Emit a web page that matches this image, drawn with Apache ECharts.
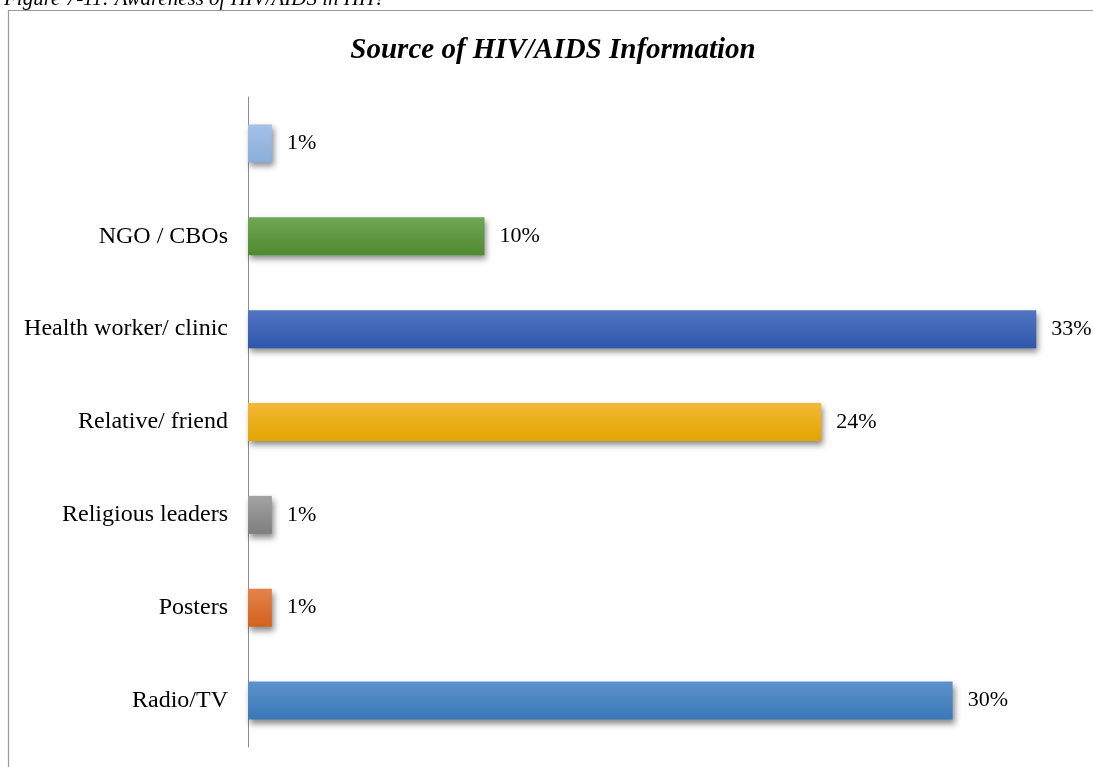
<!DOCTYPE html>
<html>
<head>
<meta charset="utf-8">
<style>
html,body{margin:0;padding:0;background:#fff;}
#c{width:1093px;height:767px;}
</style>
<script src="https://cdn.jsdelivr.net/npm/echarts@6/dist/echarts.min.js"></script>
</head>
<body>
<div id="c"></div>
<script>
const categories = ['Radio/TV', 'Posters', 'Religious leaders', 'Relative/ friend', 'Health worker/ clinic', 'NGO / CBOs', ''];
const values = [29.5, 1.0, 1.0, 24.0, 33.0, 9.9, 1.0];
const colorsTop = ['#5d93cc', '#e5834a', '#a3a3a3', '#f2b936', '#5275c4', '#72a554', '#a5c2e8'];
const colorsBottom = ['#3a77b7', '#d2611d', '#7e7e7e', '#e3a400', '#2d56aa', '#4f8a2f', '#8aadda'];
const titleText = 'Source of HIV/AIDS Information';
const captionText = 'Figure 7-11: Awareness of HIV/AIDS in HH?';

const chart = echarts.init(document.getElementById('c'));
const data = values.map((v, i) => ({
  value: v,
  itemStyle: {
    color: new echarts.graphic.LinearGradient(0, 0, 0, 1, [
      {offset: 0, color: colorsTop[i]},
      {offset: 1, color: colorsBottom[i]}
    ]),
    shadowColor: 'rgba(0,0,0,0.45)',
    shadowBlur: 6,
    shadowOffsetX: 2,
    shadowOffsetY: 4
  }
}));
chart.setOption({
  animation: false,
  graphic: [
    {type: 'rect', shape: {x: 8.5, y: 10.5, width: 1200, height: 800}, style: {fill: 'none', stroke: '#9a9a9a', lineWidth: 1.2}, z: 0},
    {type: 'text', left: 4, top: -11, style: {text: captionText, font: 'italic 21px "Liberation Serif", "Times New Roman", serif', fill: '#000'}, z: 5}
  ],
  title: {
    text: titleText,
    left: 548, top: 31, textAlign: 'center',
    textStyle: {fontFamily: '"Liberation Serif", "Times New Roman", serif', fontSize: 29, fontWeight: 'bold', fontStyle: 'italic', color: '#000'}
  },
  grid: {left: 248, top: 97, width: 836, height: 650, containLabel: false},
  xAxis: {
    type: 'value', min: 0, max: 35,
    show: false
  },
  yAxis: {
    type: 'category',
    data: categories,
    axisLine: {show: true, lineStyle: {color: '#8c8c8c', width: 1}},
    axisTick: {show: false},
    axisLabel: {
      margin: 20,
      fontFamily: '"Liberation Serif", "Times New Roman", serif',
      fontSize: 24, color: '#000'
    }
  },
  series: [{
    type: 'bar',
    data: data,
    barWidth: 38,
    label: {
      show: true, position: 'right', distance: 15,
      formatter: p => Math.round(p.value) + '%',
      fontFamily: '"Liberation Serif", "Times New Roman", serif',
      fontSize: 22, color: '#000'
    }
  }]
});
</script>
</body>
</html>
